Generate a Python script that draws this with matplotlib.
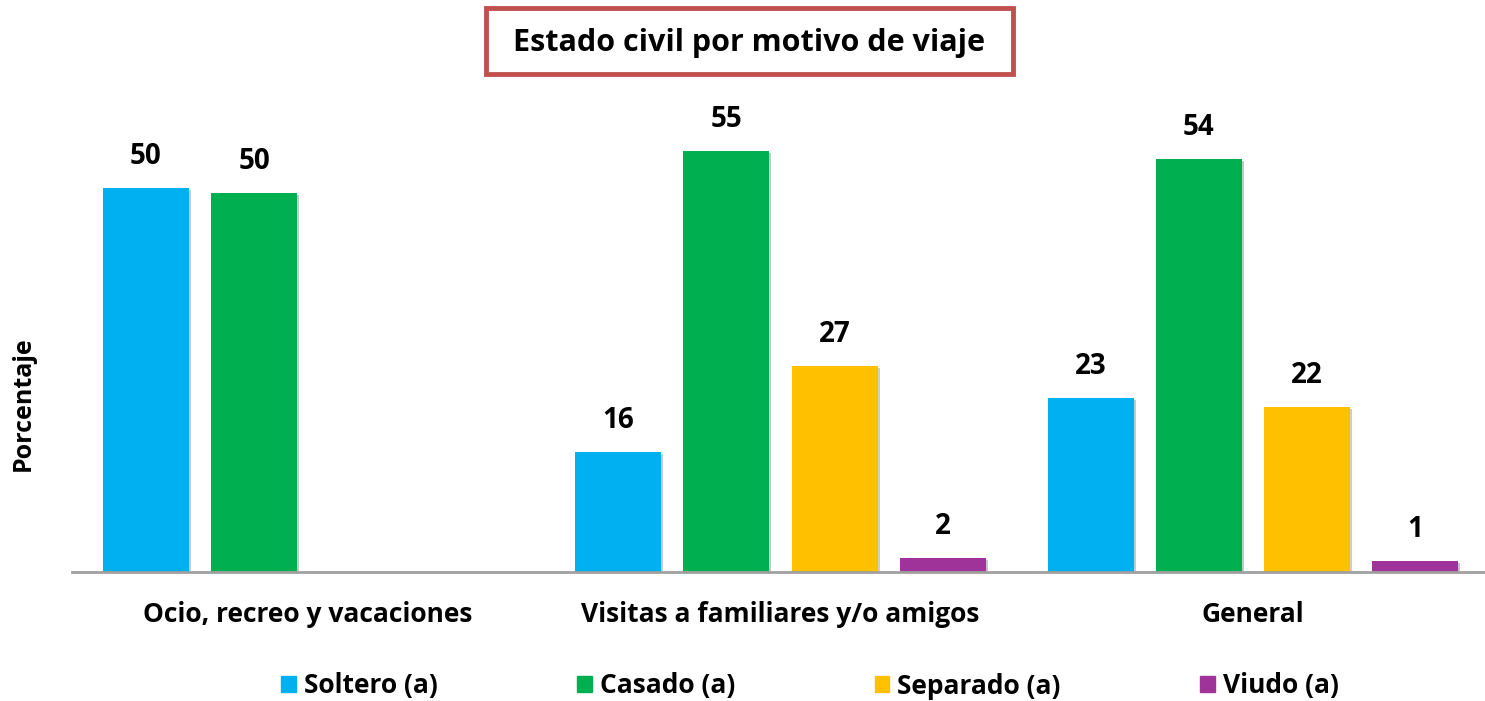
import numpy as np
import matplotlib
matplotlib.use("Agg")
import matplotlib.pyplot as plt
import matplotlib.patheffects as pe

plt.rcParams['font.family'] = ['Open Sans', 'DejaVu Sans']
plt.rcParams['font.weight'] = 'bold'

categorias = ['Ocio, recreo y vacaciones', 'Visitas a familiares y/o amigos', 'General']
series = ['Soltero (a)', 'Casado (a)', 'Separado (a)', 'Viudo (a)']
colores = ['#00B0F0', '#00B050', '#FFC000', '#A0339A']

soltero = [50.2, 15.7, 22.7]
casado = [49.6, 55.0, 54.0]
separado = [None, 26.9, 21.6]
viudo = [None, 1.8, 1.4]
valores = [soltero, casado, separado, viudo]

fig = plt.figure(figsize=(14.85, 7.01), dpi=100)
ax = fig.add_axes([72 / 1485, 129 / 701, 1417 / 1485, 459 / 701])

x = np.arange(len(categorias))
ancho = 0.182
paso = 0.229
sombra = [pe.SimplePatchShadow(offset=(1.5, -1.5), alpha=0.25), pe.Normal()]

for i, (nombre, vals, col) in enumerate(zip(series, valores, colores)):
    pos = x + (i - 1.5) * paso
    for xp, v in zip(pos, vals):
        if v is None:
            continue
        b = ax.bar(xp, v, width=ancho, color=col, label=nombre)
        b[0].set_path_effects(sombra)
        ax.text(xp, v + 4.1, f"{round(v):.0f}", ha='center', va='center',
                fontsize=20, fontweight='bold')

ax.set_xlim(-0.5, 2.5)
ax.set_ylim(0, 60)
ax.set_xticks(x)
ax.set_xticklabels(categorias, fontsize=19, fontweight='bold')
ax.tick_params(axis='x', length=0, pad=21)
ax.set_yticks([])
for s in ['top', 'right', 'left']:
    ax.spines[s].set_visible(False)
ax.spines['bottom'].set_color('#A0A0A0')
ax.spines['bottom'].set_linewidth(2)

fig.text(23 / 1485, 1 - 404 / 701, 'Porcentaje', rotation=90, ha='center',
         va='center', fontsize=18, fontweight='bold')

# titulo con recuadro
caja = plt.Rectangle((486 / 1485, 1 - 74 / 701), 527 / 1485, 66 / 701,
                     transform=fig.transFigure, fc='white', ec='#C0504D', lw=3.5)
fig.patches.append(caja)
fig.text(749 / 1485, 1 - 43 / 701, 'Estado civil por motivo de viaje',
         ha='center', va='center', fontsize=22, fontweight='bold')

handles = [plt.Rectangle((0, 0), 1, 1, color=c) for c in colores]
fig.legend(handles, series, loc='center', bbox_to_anchor=(810 / 1485, 1 - 686 / 701),
           ncol=4, frameon=False, fontsize=19, handlelength=0.55, handleheight=0.55,
           handletextpad=0.3, columnspacing=5.3)

fig.savefig('out.png', dpi=100)
